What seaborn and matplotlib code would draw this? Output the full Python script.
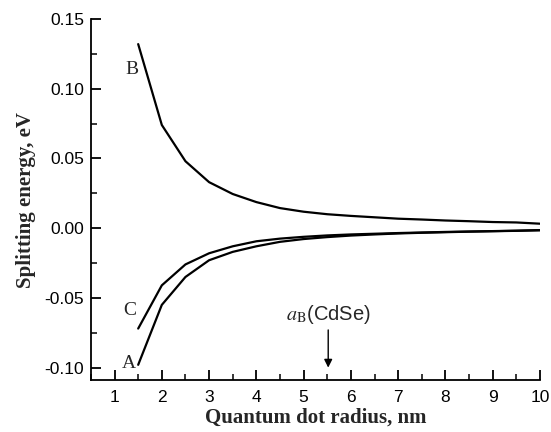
import numpy as np
import pandas as pd
import matplotlib
matplotlib.use("Agg")
import matplotlib.pyplot as plt
from matplotlib.ticker import MultipleLocator
import seaborn as sns

# quantum dot radius, nm
radius = [1.5, 2.0, 2.5, 3.0, 3.5, 4.0, 4.5, 5.0, 5.5, 6.0,
          6.5, 7.0, 7.5, 8.0, 8.5, 9.0, 9.5, 10.0]
# splitting energies, eV
split_B = [0.132, 0.074, 0.048, 0.033, 0.0245, 0.0187, 0.0144, 0.0118, 0.0100,
           0.0088, 0.0078, 0.0068, 0.0062, 0.0055, 0.0050, 0.0044, 0.0041, 0.0032]
split_C = [-0.072, -0.041, -0.026, -0.018, -0.013, -0.0094, -0.0075, -0.0062,
           -0.0052, -0.0045, -0.0040, -0.0035, -0.0031, -0.0027, -0.0024,
           -0.0021, -0.0018, -0.0014]
split_A = [-0.098, -0.055, -0.035, -0.023, -0.017, -0.013, -0.0098, -0.0078,
           -0.0064, -0.0053, -0.0045, -0.0038, -0.0033, -0.0029, -0.0025,
           -0.0022, -0.0019, -0.0015]
curve_names = ["B", "C", "A"]

sns.set_theme(style="ticks")
plt.rcParams['font.family'] = ['Liberation Sans', 'DejaVu Sans']
plt.rcParams['mathtext.fontset'] = 'stix'

df = pd.DataFrame({
    "radius": radius * 3,
    "energy": split_B + split_C + split_A,
    "curve": np.repeat(curve_names, len(radius)),
})

fig = plt.figure(figsize=(5.51, 4.32), dpi=100)
ax = fig.add_axes([0.165, 0.120, 0.815, 0.836])
sns.lineplot(data=df, x="radius", y="energy", hue="curve", units="curve",
             estimator=None, palette=["black"] * 3, linewidth=1.6,
             legend=False, ax=ax)

ax.set_xlim(0.5, 10)
ax.set_ylim(-0.109, 0.15)
ax.xaxis.set_major_locator(MultipleLocator(1))
ax.xaxis.set_minor_locator(MultipleLocator(0.5))
ax.yaxis.set_major_locator(MultipleLocator(0.05))
ax.yaxis.set_minor_locator(MultipleLocator(0.025))
ax.set_xticks(range(1, 11))
ax.set_yticks([-0.10, -0.05, 0.00, 0.05, 0.10, 0.15])
ax.set_yticklabels(["-0.10", "-0.05", "0.00", "0.05", "0.10", "0.15"])
ax.tick_params(which="major", direction="in", length=7, width=1.3,
               labelsize=12.5, colors="black", pad=5)
ax.tick_params(axis="x", which="major", pad=7)
ax.tick_params(which="minor", direction="in", length=4, width=1.3)
for side in ["left", "bottom"]:
    ax.spines[side].set_linewidth(1.3)
    ax.spines[side].set_color("black")
sns.despine(ax=ax)

serif = ['Liberation Serif', 'DejaVu Serif']
ax.set_xlabel("Quantum dot radius, nm", family=serif, fontweight="bold",
              fontsize=15, labelpad=2)
ax.set_ylabel("Splitting energy, eV", family=serif, fontweight="bold",
              fontsize=15, labelpad=6)

# curve labels
ax.text(1.36, 0.114, "B", family=serif, fontsize=14, ha="center", va="center")
ax.text(1.32, -0.059, "C", family=serif, fontsize=14, ha="center", va="center")
ax.text(1.30, -0.097, "A", family=serif, fontsize=14, ha="center", va="center")

# Bohr radius marker
ax.annotate("", xy=(5.52, -0.102), xytext=(5.52, -0.071),
            arrowprops=dict(arrowstyle="-|>", color="black", lw=1.0,
                            mutation_scale=12))
ax.text(5.52, -0.0705, r"$a_{\mathrm{B}}$(CdSe)", fontsize=14.5,
        ha="center", va="bottom")

fig.savefig("out.png", dpi=100)
